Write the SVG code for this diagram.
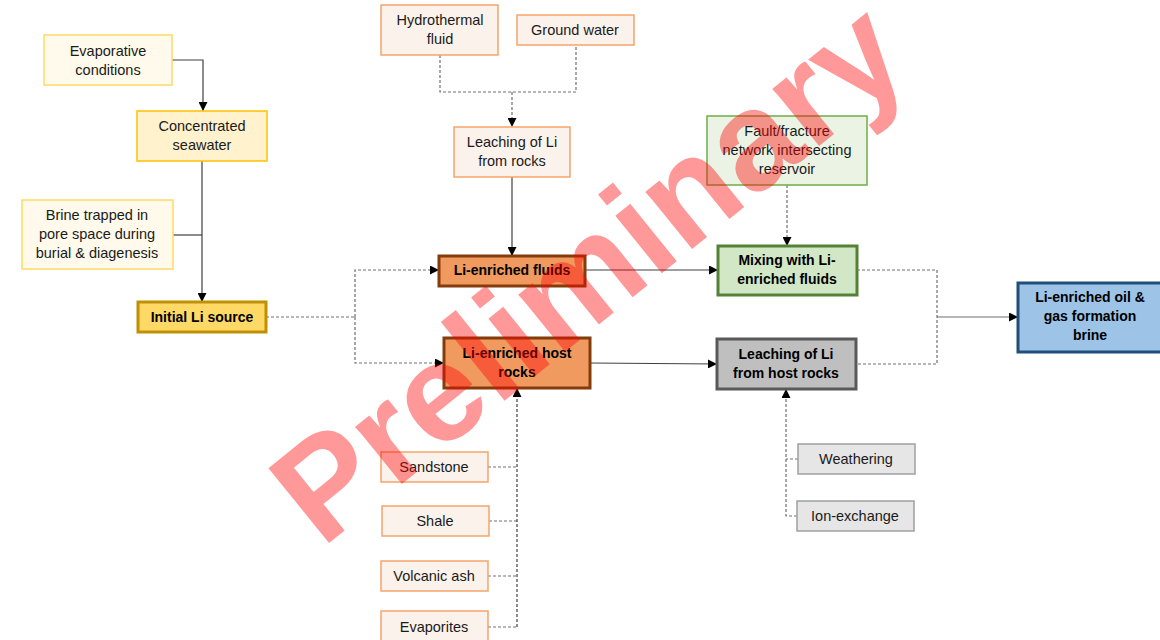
<svg xmlns="http://www.w3.org/2000/svg" width="1160" height="640" viewBox="0 0 1160 640">
<style>
text{font-family:"Liberation Sans",Arial,sans-serif;font-size:14.5px;fill:#1a1a1a;text-anchor:middle}
.b{font-weight:bold;font-size:14px;fill:#000}
.ycream{fill:#FFFAEB;stroke:#FFD966;stroke-width:1.5}
.ylight{fill:#FFF2CC;stroke:#FFC000;stroke-width:1.5}
.ystrong{fill:#FFD966;stroke:#BF9000;stroke-width:3}
.opale{fill:#FCF2EC;stroke:#F4A56A;stroke-width:1.5}
.ostrong{fill:#F19A5F;stroke:#843C0C;stroke-width:3}
.gpale{fill:#EBF3E5;stroke:#70AD47;stroke-width:1.5}
.gstrong{fill:#D2E7C6;stroke:#548235;stroke-width:3}
.greystrong{fill:#BFBFBF;stroke:#595959;stroke-width:3}
.greypale{fill:#E6E6E6;stroke:#A0A0A0;stroke-width:1.5}
.bstrong{fill:#9DC3E6;stroke:#1F4E79;stroke-width:3}
.solid{fill:none;stroke:#404040;stroke-width:1.2}
.dash{fill:none;stroke:#707070;stroke-width:1.2;stroke-dasharray:3 2}
.arr{marker-end:url(#ah)}
</style>
<defs>
<marker id="ah" viewBox="0 0 10 10" refX="10" refY="5" markerWidth="9" markerHeight="9" markerUnits="userSpaceOnUse" orient="auto"><path d="M0,0 L10,5 L0,10 z" fill="#000"/></marker>
</defs>
<rect width="1160" height="640" fill="#fff"/>
<g id="connectors">
<path class="solid arr" d="M172,60 H203 V111"/>
<path class="solid arr" d="M202,161 V302"/>
<path class="solid" d="M173,235 H202"/>
<path class="dash" d="M266,317 H355"/>
<path class="dash arr" d="M355,317 V270 H439"/>
<path class="dash arr" d="M355,317 V363 H444"/>
<path class="dash" d="M440,55 V92 H576 V45"/>
<path class="dash arr" d="M512,92 V127"/>
<path class="solid arr" d="M512,177 V256"/>
<path class="solid arr" d="M585,270 H718"/>
<path class="solid arr" d="M590,363 L717,364"/>
<path class="dash arr" d="M787,185 V246"/>
<path class="dash" d="M857,270 H937 V364 H856"/>
<path class="solid arr" d="M937,317 H1018" style="stroke:#707070"/>
<path class="dash" d="M488,467 H517 M489,521 H517 M488,576 H517 M488,627 H517"/>
<path class="dash arr" d="M517,627 V388" style="stroke:#404040"/>
<path class="dash" d="M798,459 H786"/>
<path class="dash arr" d="M797,516 H786 V389"/>
</g>
<g id="evaporative"><rect class="ycream" x="44" y="35" width="128" height="50"/><text x="108" y="55.5">Evaporative</text><text x="108" y="74.5">conditions</text></g>
<g id="concentrated"><rect class="ylight" x="137" y="111" width="130" height="50"/><text x="202" y="131">Concentrated</text><text x="202" y="150">seawater</text></g>
<g id="brine-trapped"><rect class="ycream" x="22" y="200" width="151" height="69"/><text x="97" y="220">Brine trapped in</text><text x="97" y="239">pore space during</text><text x="97" y="258">burial &amp; diagenesis</text></g>
<g id="initial"><rect class="ystrong" x="138" y="302" width="128" height="30"/><text class="b" x="202" y="322">Initial Li source</text></g>
<g id="hydrothermal"><rect class="opale" x="381" y="5" width="117" height="50"/><text x="440" y="25">Hydrothermal</text><text x="440" y="44">fluid</text></g>
<g id="groundwater"><rect class="opale" x="517" y="15" width="117" height="30"/><text x="575" y="35">Ground water</text></g>
<g id="leaching-rocks"><rect class="opale" x="454" y="127" width="116" height="50"/><text x="512" y="147">Leaching of Li</text><text x="512" y="166">from rocks</text></g>
<g id="li-fluids"><rect class="ostrong" x="439" y="256" width="146" height="30"/><text class="b" x="512" y="275">Li-enriched fluids</text></g>
<g id="li-host"><rect class="ostrong" x="444" y="338" width="146" height="50"/><text class="b" x="517" y="358">Li-enriched host</text><text class="b" x="517" y="377">rocks</text></g>
<g id="fault"><rect class="gpale" x="707" y="116" width="160" height="69"/><text x="787" y="136">Fault/fracture</text><text x="787" y="155">network intersecting</text><text x="787" y="174">reservoir</text></g>
<g id="mixing"><rect class="gstrong" x="718" y="246" width="139" height="49"/><text class="b" x="787" y="265">Mixing with Li-</text><text class="b" x="787" y="284">enriched fluids</text></g>
<g id="leaching-host"><rect class="greystrong" x="717" y="339" width="139" height="50"/><text class="b" x="786" y="359">Leaching of Li</text><text class="b" x="786" y="378">from host rocks</text></g>
<g id="formation-brine"><rect class="bstrong" x="1018" y="283" width="145" height="69"/><text class="b" x="1090" y="302">Li-enriched oil &amp;</text><text class="b" x="1090" y="321">gas formation</text><text class="b" x="1090" y="340">brine</text></g>
<g id="sandstone"><rect class="opale" x="381" y="452" width="107" height="30"/><text x="434" y="472">Sandstone</text></g>
<g id="shale"><rect class="opale" x="382" y="506" width="107" height="30"/><text x="435" y="526">Shale</text></g>
<g id="volcanic"><rect class="opale" x="381" y="561" width="107" height="30"/><text x="434" y="581">Volcanic ash</text></g>
<g id="evaporites"><rect class="opale" x="381" y="611" width="107" height="30"/><text x="434" y="632">Evaporites</text></g>
<g id="weathering"><rect class="greypale" x="798" y="444" width="117" height="30"/><text x="856" y="464">Weathering</text></g>
<g id="ion-exchange"><rect class="greypale" x="797" y="501" width="117" height="30"/><text x="855" y="521">Ion-exchange</text></g>
<text x="618" y="309" transform="rotate(-39 618 309)" style="font-family:'Liberation Sans',Arial,sans-serif;font-size:140px;font-weight:bold;fill:#FF0000;fill-opacity:0.4;text-anchor:middle">Preliminary</text>
</svg>
